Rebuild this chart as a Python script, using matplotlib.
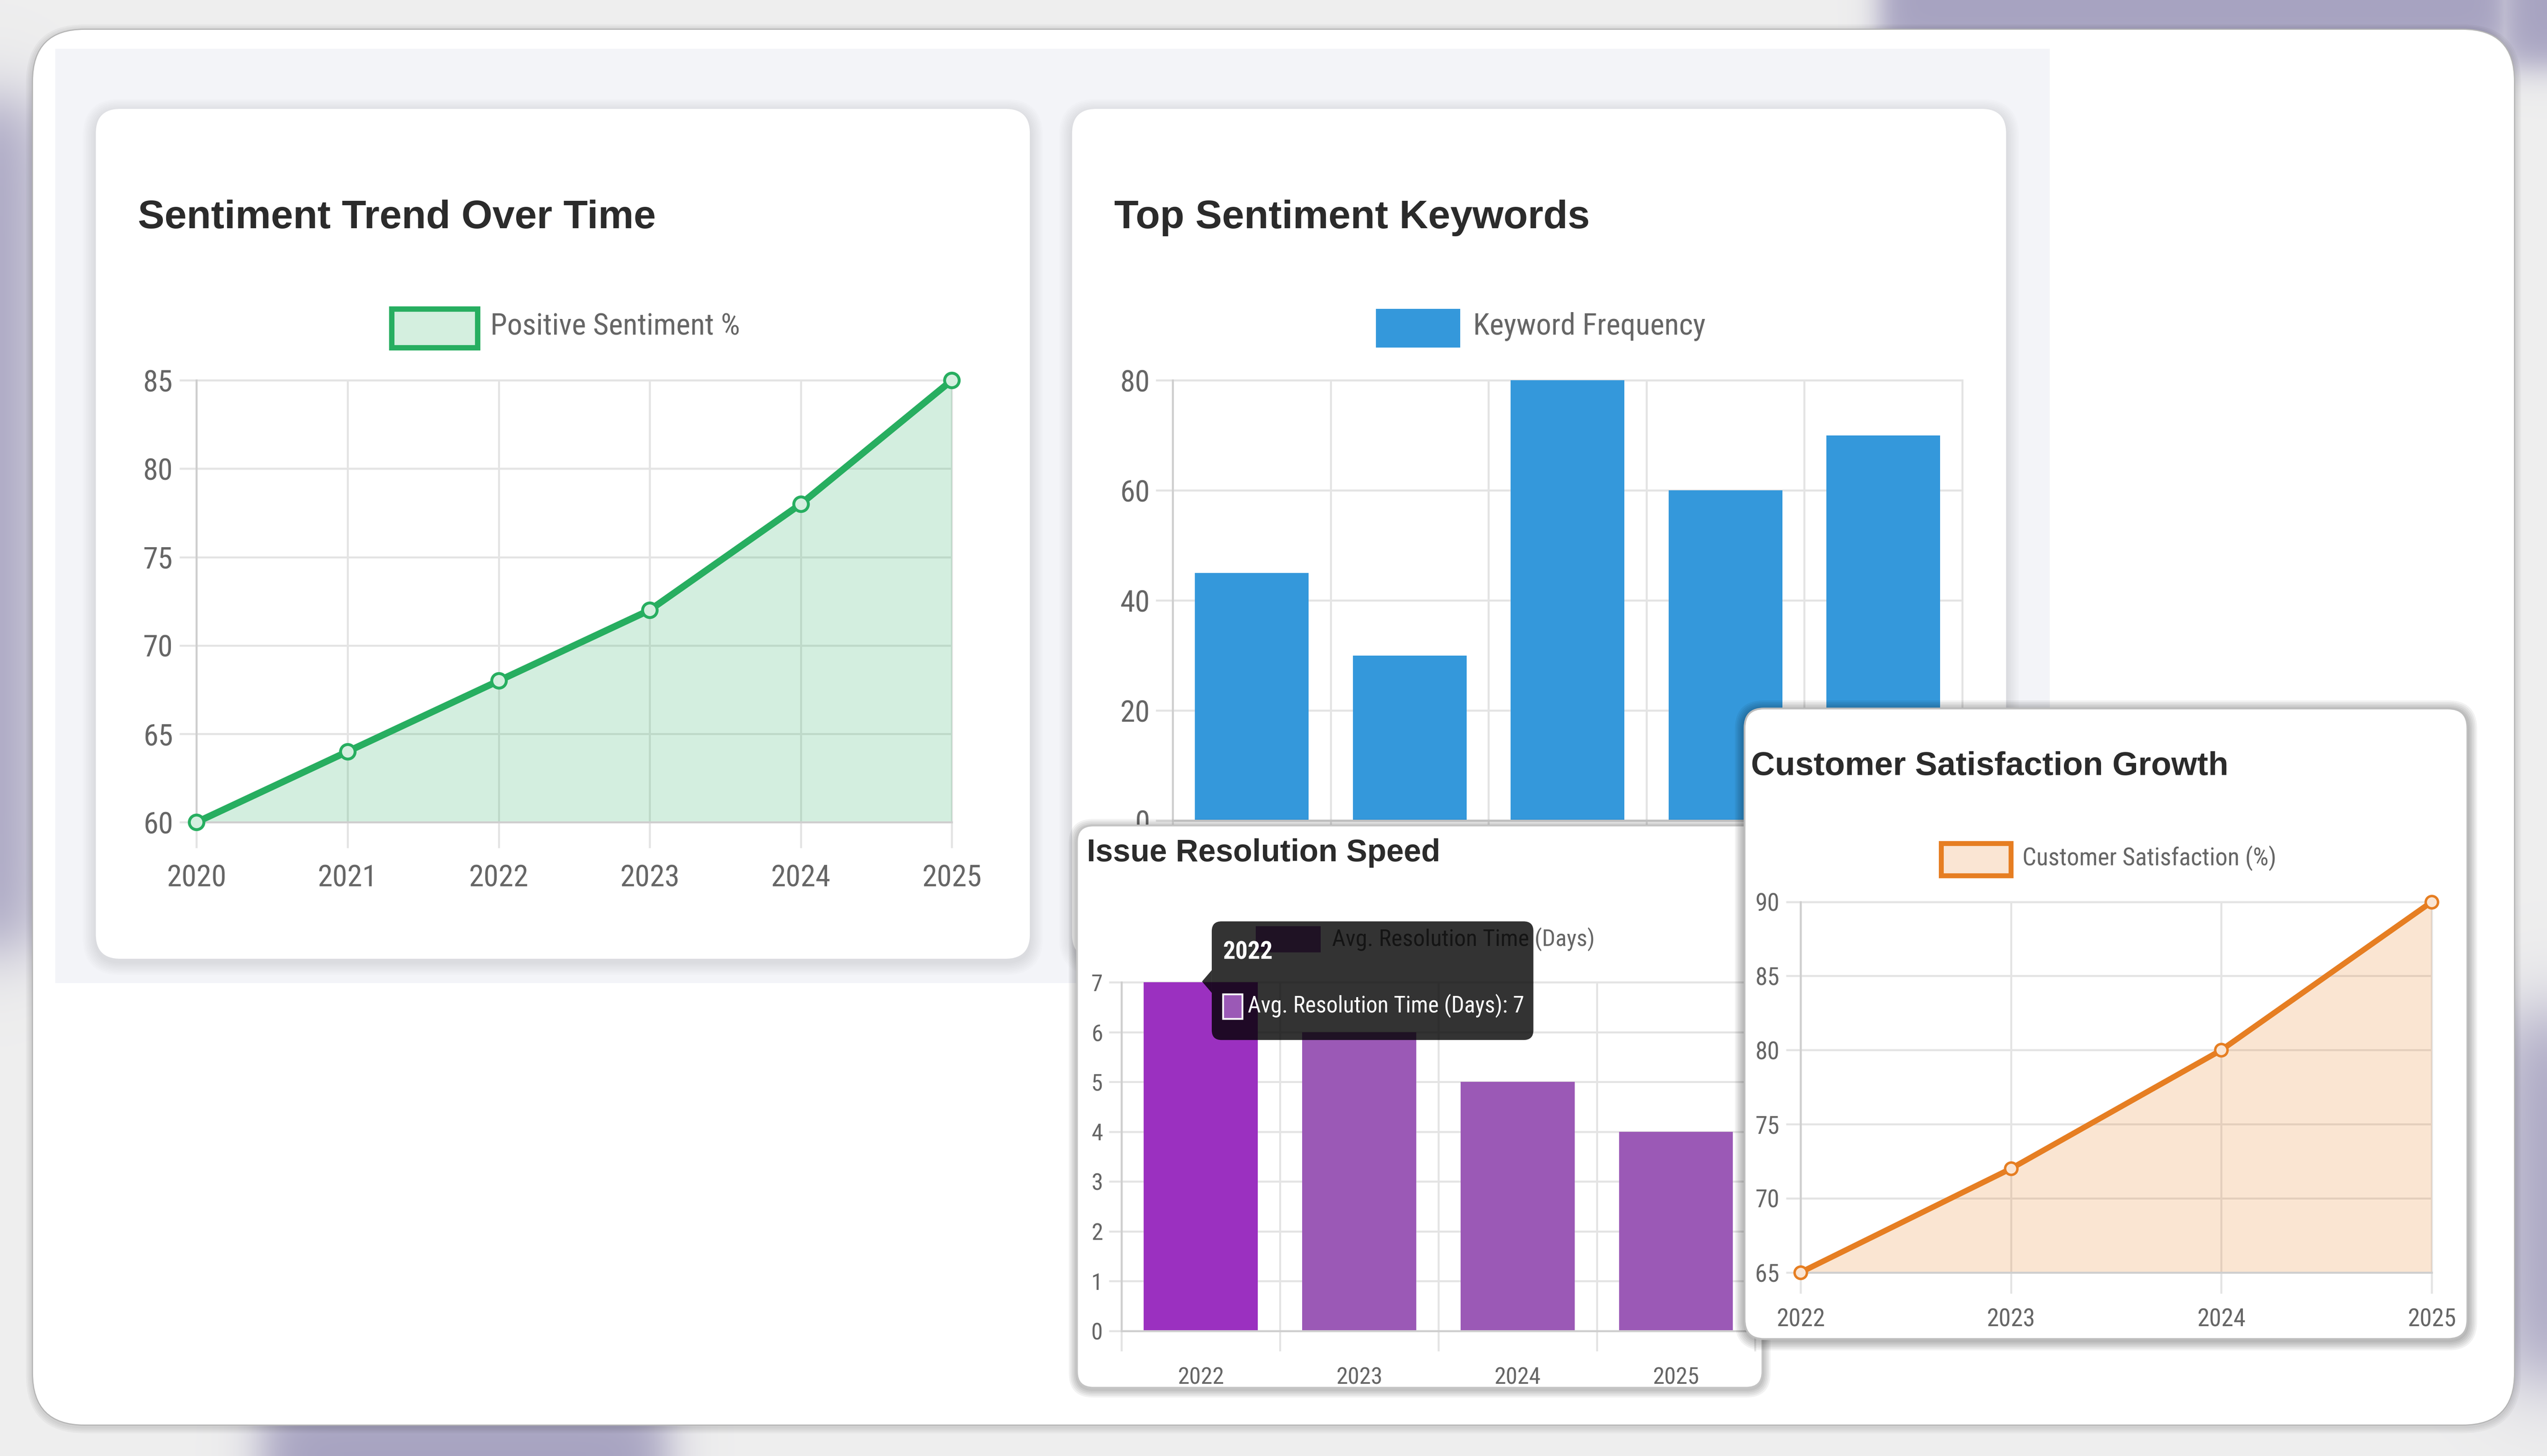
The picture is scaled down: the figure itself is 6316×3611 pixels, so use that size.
import numpy as np
import matplotlib.pyplot as plt
from matplotlib.patches import FancyBboxPatch, Polygon, Rectangle
from matplotlib.transforms import Affine2D

# screenshot units (the picture is laid out on a 1568 x 896 grid)
W, H = 1568, 896
FIG_W, FIG_H = 6316 / 400, 3611 / 400

# ---- data ----
sent_years = [2020, 2021, 2022, 2023, 2024, 2025]
sent_pos = [60, 64, 68, 72, 78, 85]
sent_label = "Positive Sentiment %"

kw_freq = [45, 30, 80, 60, 70]
kw_label = "Keyword Frequency"

res_years = ["2022", "2023", "2024", "2025"]
res_days = [7, 6, 5, 4]
res_label = "Avg. Resolution Time (Days)"

sat_years = [2022, 2023, 2024, 2025]
sat_pct = [65, 72, 80, 90]
sat_label = "Customer Satisfaction (%)"

GREEN = "#27ae60"
BLUE = "#3498db"
PURPLE = "#9b59b6"
PURPLE_HOVER = "#9b30c0"
ORANGE = "#e67e22"
GRID = "#e4e4e4"
TICK_TXT = "#666666"
TITLE_TXT = "#2b2b2b"

NARROW = ["Roboto Condensed", "Liberation Sans", "DejaVu Sans"]
BOLD = ["Liberation Sans", "DejaVu Sans"]
plt.rcParams["font.family"] = NARROW

fig = plt.figure(figsize=(FIG_W, FIG_H), dpi=400)
T = Affine2D().scale(FIG_W / W, -FIG_H / H).translate(0, FIG_H) + fig.dpi_scale_trans


def rounded(x0, y0, x1, y1, r, z, fc="white", ec="none", lw=0.0, alpha=1.0):
    p = FancyBboxPatch((x0, y0), x1 - x0, y1 - y0,
                       boxstyle=f"round,pad=0,rounding_size={r}",
                       transform=T, fc=fc, ec=ec, lw=lw, alpha=alpha, zorder=z)
    fig.add_artist(p)
    return p


def shadow(x0, y0, x1, y1, r, z, n, a, dy):
    for k in range(n, 0, -1):
        rounded(x0 - k, y0 - k + dy, x1 + k, y1 + k + dy, r + k, z, fc="black", alpha=a)


def text(x, y, s, z, size, color=TICK_TXT, weight="normal", family=None, va="center", ha="left"):
    fig.text(x, y, s, transform=T, fontsize=size, color=color, weight=weight,
             va=va, ha=ha, zorder=z, family=family or NARROW)


def add_ax(x0, y0, x1, y1, z):
    ax = fig.add_axes([x0 / W, 1 - y1 / H, (x1 - x0) / W, (y1 - y0) / H])
    ax.set_zorder(z)
    ax.patch.set_alpha(0)
    return ax


def style_axes(ax, size, xlen, xpad, ylen, ypad):
    for side in ["top", "right"]:
        ax.spines[side].set_visible(False)
    for side in ["left", "bottom"]:
        ax.spines[side].set_color("#cfcfcf")
        ax.spines[side].set_linewidth(0.9)
    ax.set_axisbelow(True)
    ax.grid(True, which="major", color=GRID, lw=0.9)
    for l in ax.get_xgridlines() + ax.get_ygridlines():
        l.set_clip_on(False)
    ax.tick_params(axis="x", which="major", length=xlen, width=0.9, color=GRID,
                   pad=xpad, labelsize=size, labelcolor=TICK_TXT)
    ax.tick_params(axis="y", length=ylen, width=0.9, color=GRID,
                   pad=ypad, labelsize=size, labelcolor=TICK_TXT)


# ---- page background with blurred purple shapes ----
bg = fig.add_axes([0, 0, 1, 1])
bg.set_zorder(-10)
bg.axis("off")
xs = np.linspace(0, W, 392)
ys = np.linspace(0, H, 224)
X, Y = np.meshgrid(xs, ys)


def soft(v, a, b, w):
    return 1 / (1 + np.exp(-(v - a) / w)) / (1 + np.exp(-(b - v) / w))


blobs = [(1158, 1548, -60, 30, 5), (1540, 1640, -60, 40, 6),
         (-60, 22, 60, 585, 12), (160, 410, 860, 960, 8), (1540, 1640, 625, 850, 14)]
mask = np.zeros_like(X)
for x0, x1, y0, y1, w in blobs:
    mask = np.maximum(mask, soft(X, x0, x1, w) * soft(Y, y0, y1, w))
base = np.array([0.935, 0.935, 0.935])
lilac = np.array([167, 163, 193]) / 255
img = base * (1 - mask[..., None]) + lilac * mask[..., None]
bg.imshow(img, extent=[0, W, H, 0], aspect="auto", interpolation="bilinear")
bg.set_xlim(0, W)
bg.set_ylim(H, 0)

# main white sheet and grey panel
shadow(20, 18, 1548, 877, 32, -6, 4, 0.03, 1)
rounded(20, 18, 1548, 877, 32, -5, ec="#b5b5b5", lw=0.5)
fig.add_artist(Rectangle((34, 30), 1228, 575, transform=T, fc="#f3f4f8", ec="none", zorder=-4))

# top cards
for cx0, cx1 in [(59, 634), (660, 1235)]:
    shadow(cx0, 67, cx1, 590, 15, -3.5, 8, 0.012, 2)
    rounded(cx0, 67, cx1, 590, 15, -3)

# ---- Sentiment Trend Over Time ----
text(85, 140.5, "Sentiment Trend Over Time", 1, 17.8, TITLE_TXT, "bold", BOLD, va="baseline")
fig.add_artist(Rectangle((241, 190), 53, 24, transform=T, fc="#d4efdf", ec=GREEN, lw=2.4, zorder=1))
text(302, 201, sent_label, 1, 13.5)

ax1 = add_ax(121, 234, 586, 506, 0)
ax1.fill_between(sent_years, sent_pos, min(sent_pos), color=GREEN, alpha=0.2, lw=0)
ax1.plot(sent_years, sent_pos, color=GREEN, lw=3.0, marker="o", ms=6.5,
         mfc="#d4efdf", mec=GREEN, mew=1.3, clip_on=False, zorder=3)
ax1.set_xlim(2020, 2025)
ax1.set_ylim(60, 85)
ax1.set_xticks(sent_years)
ax1.set_yticks(range(60, 86, 5))
style_axes(ax1, 13.5, 11.6, 7, 7.6, 2.9)

# ---- Top Sentiment Keywords ----
text(686, 140.5, "Top Sentiment Keywords", 1, 17.8, TITLE_TXT, "bold", BOLD, va="baseline")
fig.add_artist(Rectangle((847, 190), 52, 24, transform=T, fc=BLUE, ec="none", zorder=1))
text(907, 201, kw_label, 1, 13.5)

ax2 = add_ax(722, 234, 1208, 505, 0)
ax2.bar(range(len(kw_freq)), kw_freq, width=0.72, color=BLUE)
ax2.set_xlim(-0.5, len(kw_freq) - 0.5)
ax2.set_ylim(0, 80)
ax2.set_xticks(np.arange(len(kw_freq) + 1) - 0.5)
ax2.set_xticklabels([])
ax2.set_yticks(range(0, 81, 20))
style_axes(ax2, 13.5, 11.6, 7, 7.5, 2.7)

# ---- Issue Resolution Speed (overlay card) ----
shadow(663, 508, 1085, 854, 10, 1.9, 5, 0.05, 1)
rounded(663, 508, 1085, 854, 10, 2, ec="#c4c4c4", lw=0.8)
text(669, 530, "Issue Resolution Speed", 3.5, 14, TITLE_TXT, "bold", BOLD, va="baseline")
fig.add_artist(Rectangle((773, 570), 40, 16, transform=T, fc=PURPLE, ec="none", zorder=3.5))
text(820, 578, res_label, 3.5, 10.5)

ax3 = add_ax(690.5, 604.5, 1080.5, 819, 3)
bar_colors = [PURPLE_HOVER] + [PURPLE] * (len(res_days) - 1)
ax3.bar(range(len(res_days)), res_days, width=0.72, color=bar_colors)
ax3.set_xlim(-0.5, len(res_days) - 0.5)
ax3.set_ylim(0, 7)
ax3.set_yticks(range(0, 8))
ax3.set_xticks(np.arange(len(res_days) + 1) - 0.5)
ax3.set_xticklabels([])
ax3.set_xticks(range(len(res_years)), labels=res_years, minor=True)
style_axes(ax3, 10.5, 9, 6, 5.5, 2.9)
ax3.tick_params(axis="x", which="minor", length=0, pad=16, labelsize=10.5, labelcolor=TICK_TXT)

# tooltip over the 2022 bar
rounded(746, 567, 944, 640, 6, 4, fc="black", alpha=0.8)
fig.add_artist(Polygon([(740, 604), (746, 597), (746, 611)], closed=True, transform=T,
                       fc="black", ec="none", alpha=0.8, zorder=4))
text(753, 586, res_years[0], 4.1, 11, "white", "bold")
fig.add_artist(Rectangle((753, 612), 12, 15, transform=T, fc=PURPLE, ec="white", lw=0.8, zorder=4.1))
text(768, 619, f"{res_label}: {res_days[0]}", 4.1, 10.2, "white")

# ---- Customer Satisfaction Growth (overlay card) ----
shadow(1074, 436, 1519, 824, 12, 4.9, 6, 0.05, 1)
rounded(1074, 436, 1519, 824, 12, 5, ec="#bdbdbd", lw=0.8)
text(1078, 477, "Customer Satisfaction Growth", 6.5, 14.8, TITLE_TXT, "bold", BOLD, va="baseline")
fig.add_artist(Rectangle((1195, 519), 43, 20, transform=T, fc="#fae5d3", ec=ORANGE, lw=2.2, zorder=6.5))
text(1245, 528, sat_label, 6.5, 11)

ax4 = add_ax(1108.5, 555, 1497, 783, 6)
ax4.fill_between(sat_years, sat_pct, min(sat_pct), color=ORANGE, alpha=0.2, lw=0)
ax4.plot(sat_years, sat_pct, color=ORANGE, lw=2.5, marker="o", ms=5.5,
         mfc="#fae5d3", mec=ORANGE, mew=1.1, clip_on=False, zorder=3)
ax4.set_xlim(2022, 2025)
ax4.set_ylim(65, 90)
ax4.set_xticks(sat_years)
ax4.set_yticks(range(65, 91, 5))
style_axes(ax4, 11, 9.4, 6.5, 6.5, 2.9)

fig.savefig("out.png", dpi=400)
